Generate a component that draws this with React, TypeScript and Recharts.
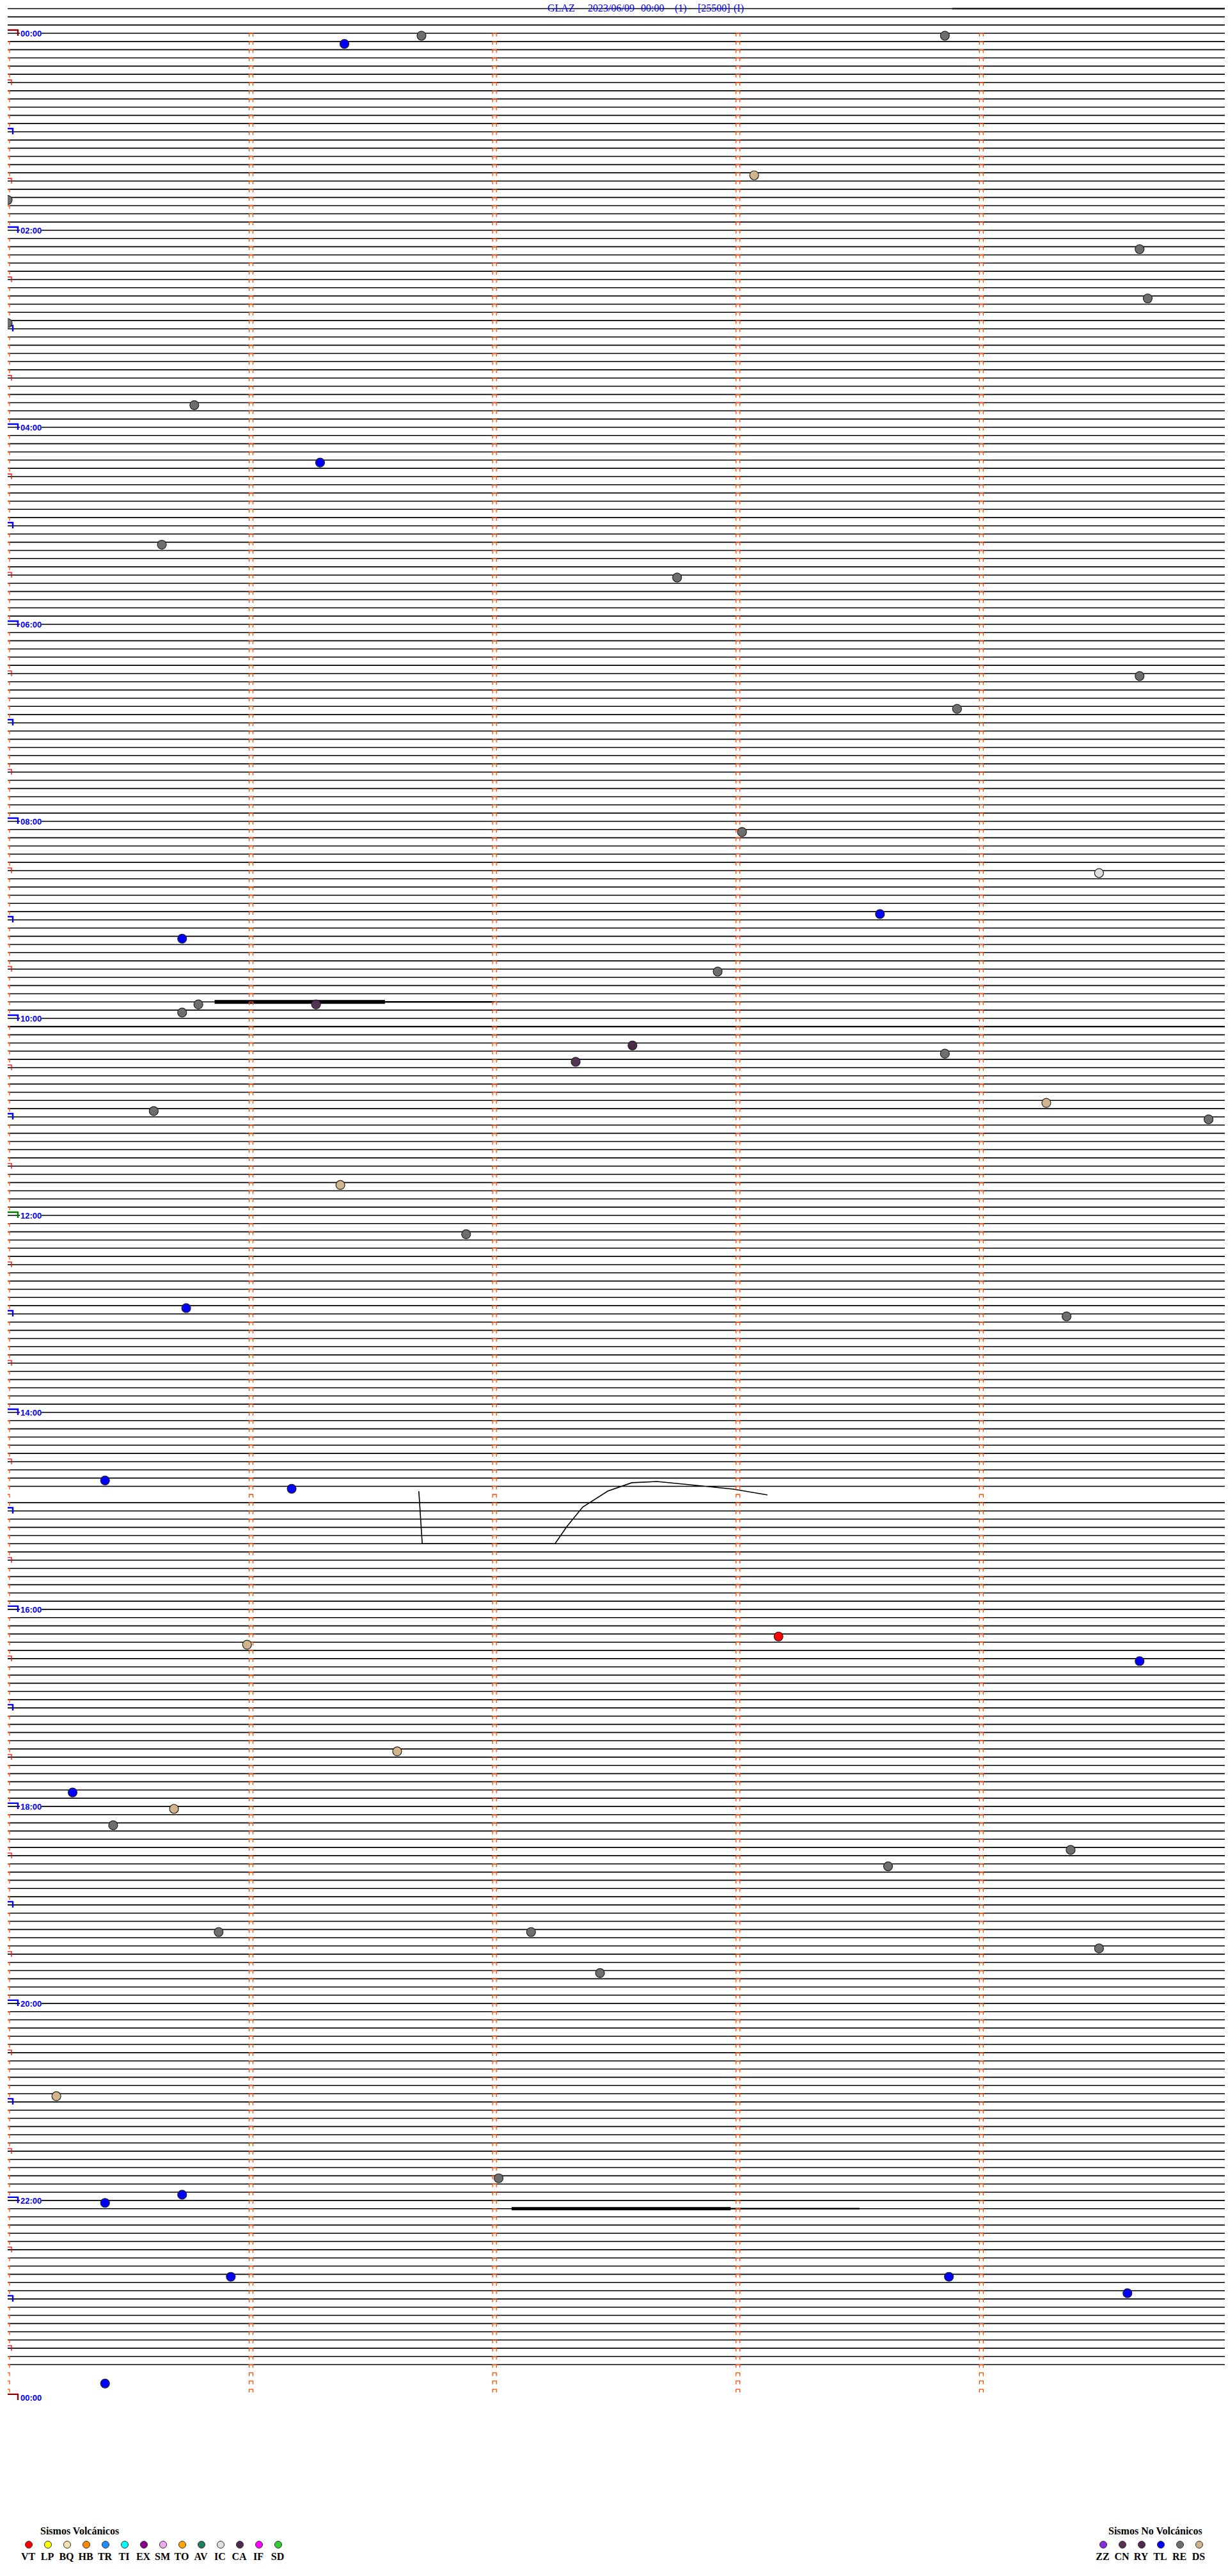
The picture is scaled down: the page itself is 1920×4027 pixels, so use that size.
import React from 'react';
import { ComposedChart, Line, Scatter, XAxis, YAxis } from 'recharts';

const WIDTH = 1920;
const HEIGHT = 4027;

// helicorder: 288 lines of 5 minutes, a tick every minute
const ROW_COUNT = 288;
const MINUTES_PER_ROW = 5;
const TICK_COLUMNS = [0, 1, 2, 3, 4];
const TRACE_SHIFT = 3; // the traces run ~3 lines above their own tick
const EVENT_OFFSET = 0.3;
const Y_MIN = -4.052;
const Y_MAX = 309.75;

const titleParts = ['GLAZ', '2023/06/09', '00:00', '(1)', '[25500]', '(I)'];
const titleLeft = [856, 919, 1002, 1055, 1091, 1147];

const hourLabels = ['00:00', '02:00', '04:00', '06:00', '08:00', '10:00', '12:00', '14:00', '16:00', '18:00', '20:00', '22:00', '00:00'];
const hourLabelRows = [0, 24, 48, 72, 96, 120, 144, 168, 192, 216, 240, 264, 288];

const eventTimes = [
  '00:06:23', '00:01:42', '00:03:51', '01:28:04', '01:40:00', '02:14:39', '02:44:41', '02:55:00',
  '03:45:46', '04:21:17', '05:10:38', '05:32:45', '06:34:39', '06:53:54', '08:08:01', '08:34:29',
  '08:58:35', '09:10:43', '09:32:55', '09:50:47', '09:55:43', '09:51:16', '10:17:34', '10:27:20',
  '10:23:51', '10:55:36', '10:54:16', '11:04:56', '11:41:22', '12:11:53', '12:55:44', '13:04:21',
  '14:40:24', '14:46:10', '16:20:59', '16:18:10', '16:34:39', '17:26:36', '17:50:16', '18:00:41',
  '18:10:26', '18:38:37', '18:29:22', '19:15:52', '19:17:09', '19:29:29', '19:42:26', '20:55:12',
  '21:47:01', '21:55:43', '22:00:24', '22:45:55', '22:48:52', '22:59:36', '23:50:24',
];
const eventTypes = [
  'TL', 'RE', 'RE', 'DS', 'RE', 'RE', 'RE', 'RE',
  'RE', 'TL', 'RE', 'RE', 'RE', 'RE', 'RE', 'IC',
  'TL', 'TL', 'RE', 'RE', 'RE', 'CN', 'RY', 'CN',
  'RE', 'RE', 'DS', 'RE', 'DS', 'RE', 'TL', 'RE',
  'TL', 'TL', 'DS', 'VT', 'TL', 'DS', 'TL', 'DS',
  'RE', 'RE', 'RE', 'RE', 'RE', 'RE', 'RE', 'DS',
  'RE', 'TL', 'TL', 'TL', 'TL', 'TL', 'TL',
];

// large transient on the 15:05 line (minutes, offset in lines)
const transientRow = 181;
const transientMin = [1.689, 1.703, 2.249, 2.296, 2.362, 2.465, 2.564, 2.667, 2.801, 2.982, 3.121];
const transientOffset = [-0.4, 5.98, 5.98, 3.95, 1.54, -0.41, -1.43, -1.58, -1.19, -0.64, 0.06];

// stretches of strong tremor drawn as a thick band
const noiseRows = [0, 121, 121, 124, 268, 268];
const noiseStart = [3.88, 0.85, 1.55, 0, 2.07, 2.97];
const noiseEnd = [5, 1.55, 2.0, 5, 2.97, 3.5];
const noiseWidth = [2, 6, 2.6, 2.2, 5, 2.6];

const volcanicTypes = ['VT', 'LP', 'BQ', 'HB', 'TR', 'TI', 'EX', 'SM', 'TO', 'AV', 'IC', 'CA', 'IF', 'SD'];
const volcanicColors = ['#ff0000', '#ffff00', '#f3e3ad', '#ff8a00', '#1e8fff', '#00ffff', '#8b008b', '#eeaaee', '#ffa500', '#1f7f5f', '#e0e0e0', '#4b2a4b', '#ff00ff', '#33cc33'];
const nonVolcanicTypes = ['ZZ', 'CN', 'RY', 'TL', 'RE', 'DS'];
const nonVolcanicColors = ['#8a2be2', '#553355', '#4b2a4b', '#0000ff', '#6e6e6e', '#d2b48c'];

const colorOf: Record<string, string> = {};
volcanicTypes.forEach((t, i) => (colorOf[t] = volcanicColors[i]));
nonVolcanicTypes.forEach((t, i) => (colorOf[t] = nonVolcanicColors[i]));

const traceData: { m: number; v: number | null }[] = [];
for (let r = 0; r < ROW_COUNT; r++) {
  const base = r - TRACE_SHIFT;
  if (r === transientRow) {
    transientMin.forEach((m, i) => traceData.push({ m, v: base + transientOffset[i] }));
  } else {
    traceData.push({ m: 0, v: base });
    traceData.push({ m: MINUTES_PER_ROW, v: base });
  }
  traceData.push({ m: MINUTES_PER_ROW, v: null });
}

const tickData: { m: number; v: number; kind: string; row: number }[] = [];
for (let r = 0; r <= ROW_COUNT; r++) {
  TICK_COLUMNS.forEach((c) => {
    if (r === ROW_COUNT && c > 0) return;
    let kind = 'tick';
    if (c === 0 && r % 12 === 0) kind = 'hour';
    else if (c === 0 && r % 12 === 6) kind = 'half';
    tickData.push({ m: c, v: r, kind, row: r });
  });
}

const labelData = hourLabels.map((label, i) => ({ m: 0, v: hourLabelRows[i], label }));

const eventData = eventTimes.map((t, i) => {
  const [h, mi, s] = t.split(':').map(Number);
  const total = h * 60 + mi + s / 60;
  const row = Math.floor(total / MINUTES_PER_ROW);
  return { m: total - row * MINUTES_PER_ROW, v: row + EVENT_OFFSET, type: eventTypes[i] };
});

const TickMark = (props: any) => {
  const { cx, cy, payload } = props;
  if (payload.kind === 'tick') {
    return <path d={`M${cx - 3},${cy + 5}V${cy}H${cx + 3}V${cy + 5}`} fill="none" stroke="#ff4a00" strokeWidth={1.3} />;
  }
  if (payload.kind === 'half') {
    return <path d={`M${cx - 3},${cy + 4}V${cy - 4}H${cx + 6}V${cy + 4}`} fill="none" stroke="#ff0000" strokeWidth={1.3} />;
  }
  const labeled = payload.row % 24 === 0;
  const color = payload.row % ROW_COUNT === 0 ? '#8b0000' : payload.row === 144 ? '#008000' : '#0000ff';
  const w = labeled ? 19 : 11;
  return <path d={`M${cx - 3},${cy + 4}V${cy - 5}H${cx - 3 + w}V${cy + 4}`} fill="none" stroke={color} strokeWidth={2.4} />;
};

const HourLabel = (props: any) => {
  const { cx, cy, payload } = props;
  return (
    <g>
      <rect x={cx + 19} y={cy - 7} width={34} height={13} fill="#fff" />
      <text x={cx + 20} y={cy + 5} fontFamily="Liberation Sans, Arial, sans-serif" fontWeight="bold" fontSize={13} fill="#0000ff">
        {payload.label}
      </text>
    </g>
  );
};

const EventDot = (props: any) => {
  const { cx, cy, payload } = props;
  return <circle cx={cx} cy={cy} r={7} fill={colorOf[payload.type]} stroke="#222" strokeWidth={1.2} />;
};

const serif = '"Liberation Serif", "Times New Roman", serif';

const LegendGroup: React.FC<{ title: string; titleLeft: number; types: string[]; colors: string[]; firstX: number }> = ({ title, titleLeft, types, colors, firstX }) => (
  <>
    <div style={{ position: 'absolute', left: titleLeft, top: 3949, fontFamily: serif, fontWeight: 'bold', fontSize: 16, lineHeight: '16px', whiteSpace: 'nowrap' }}>
      {title}
    </div>
    {types.map((t, i) => (
      <React.Fragment key={t}>
        <div
          style={{
            position: 'absolute', left: firstX + i * 30 - 6, top: 3972, width: 12, height: 12, boxSizing: 'border-box',
            borderRadius: '50%', background: colors[i], border: '1px solid #333',
          }}
        />
        <div style={{ position: 'absolute', left: firstX + i * 30 - 16, top: 3989, width: 30, textAlign: 'center', fontFamily: serif, fontWeight: 'bold', fontSize: 16, lineHeight: '16px' }}>
          {t}
        </div>
      </React.Fragment>
    ))}
  </>
);

export default function App() {
  return (
    <div style={{ position: 'relative', width: WIDTH, height: HEIGHT, background: '#fff', overflow: 'hidden' }}>
      <style>{'body{margin:0;}'}</style>
      <ComposedChart width={WIDTH} height={HEIGHT} margin={{ top: 0, right: 5, bottom: 0, left: 12 }}>
        <XAxis type="number" dataKey="m" domain={[0, MINUTES_PER_ROW]} allowDataOverflow hide />
        <YAxis type="number" dataKey="v" domain={[Y_MIN, Y_MAX]} allowDataOverflow reversed hide />
        <Line data={traceData} dataKey="v" stroke="#000" strokeWidth={1.6} dot={false} isAnimationActive={false} connectNulls={false} />
        {noiseRows.map((r, i) => (
          <Line
            key={`n${i}`}
            data={[{ m: noiseStart[i], v: r - TRACE_SHIFT }, { m: noiseEnd[i], v: r - TRACE_SHIFT }]}
            dataKey="v"
            stroke="#000"
            strokeWidth={noiseWidth[i]}
            dot={false}
            isAnimationActive={false}
          />
        ))}
        <Scatter data={tickData} shape={TickMark} isAnimationActive={false} />
        <Scatter data={labelData} shape={HourLabel} isAnimationActive={false} />
        <Scatter data={eventData} shape={EventDot} isAnimationActive={false} />
      </ComposedChart>
      {titleParts.map((p, i) => (
        <div key={p} style={{ position: 'absolute', left: titleLeft[i], top: 5, fontFamily: serif, fontSize: 16, lineHeight: '16px', color: '#0000ff', whiteSpace: 'nowrap' }}>
          {p}
        </div>
      ))}
      <LegendGroup title="Sismos Volcánicos" titleLeft={63} types={volcanicTypes} colors={volcanicColors} firstX={45} />
      <LegendGroup title="Sismos No Volcánicos" titleLeft={1733} types={nonVolcanicTypes} colors={nonVolcanicColors} firstX={1725} />
    </div>
  );
}
